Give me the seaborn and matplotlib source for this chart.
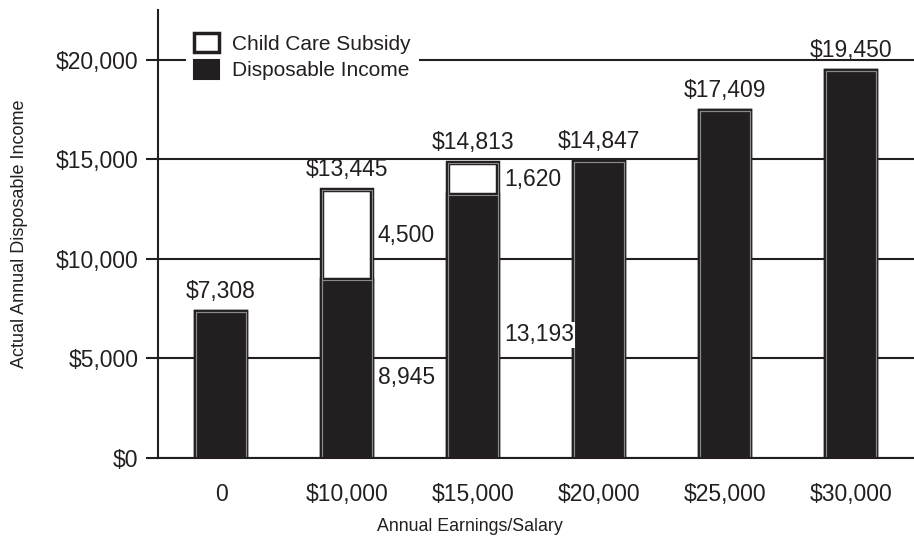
import numpy as np
import pandas as pd
import matplotlib
matplotlib.use("Agg")
import matplotlib.pyplot as plt
from matplotlib.patches import Patch, Rectangle
import seaborn as sns

# chart data
earnings = ["0", "$10,000", "$15,000", "$20,000", "$25,000", "$30,000"]
disposable = [7308, 8945, 13193, 14847, 17409, 19450]
subsidy = [0, 4500, 1620, 0, 0, 0]
yticks = [0, 5000, 10000, 15000, 20000]

df = pd.DataFrame({"earnings": earnings, "disposable": disposable, "subsidy": subsidy})
df["total"] = df["disposable"] + df["subsidy"]

sns.set_style("white")
plt.rcParams["font.family"] = ["Liberation Sans", "DejaVu Sans"]
plt.rcParams["font.size"] = 16.5

dark = "#231f20"

fig = plt.figure(figsize=(9.14, 5.42), dpi=100)
ax = fig.add_axes([0.173, 0.155, 0.827, 0.8265])

# white total bars, then dark disposable bars on top
sns.barplot(data=df, x="earnings", y="total", color="white", saturation=1,
            edgecolor=dark, linewidth=3.2, width=0.4, ax=ax, zorder=2)
sns.barplot(data=df, x="earnings", y="disposable", color=dark, saturation=1,
            edgecolor=dark, linewidth=3.2, width=0.4, ax=ax, zorder=2)

# thin grey inner outline on every bar
for p in list(ax.patches):
    ax.add_patch(Rectangle(p.get_xy(), p.get_width(), p.get_height(), fill=False,
                           edgecolor="#8a8a8a", linewidth=0.8, zorder=2.5))

ax.set_xlim(-0.5, 5.5)
ax.set_ylim(0, 22500)
ax.set_yticks(yticks)
ax.set_yticklabels([f"${v:,.0f}" for v in yticks])
ax.grid(axis="y", color=dark, linewidth=1.5)
ax.set_axisbelow(True)

ax.set_xticks(range(len(earnings)))
ax.set_xticklabels(earnings)
ax.set_xticks(np.arange(-0.5, len(earnings), 1), minor=True)
ax.tick_params(axis="x", which="major", length=0, pad=18)
ax.tick_params(axis="x", which="minor", length=8, width=2, color=dark, direction="out")
ax.tick_params(axis="y", length=9, width=1.5, color=dark, pad=5, left=True)

for side in ["top", "right"]:
    ax.spines[side].set_visible(False)
for side in ["left", "bottom"]:
    ax.spines[side].set_color(dark)
    ax.spines[side].set_linewidth(1.5)

# total labels
for i, t in enumerate(df["total"]):
    ax.annotate(f"${t:,.0f}", (i, t), xytext=(0, 6.5), textcoords="offset points",
                ha="center", va="bottom", color=dark)

# segment labels to the right of stacked bars
for i, (d, s) in enumerate(zip(disposable, subsidy)):
    if s == 0:
        continue
    ax.annotate(f"{d:,.0f}", (i + 0.2, d / 2), xytext=(4, -6), textcoords="offset points",
                ha="left", va="center", color=dark,
                bbox=dict(facecolor="white", edgecolor="none", pad=1))
    ax.annotate(f"{s:,.0f}", (i + 0.2, d + s / 2), xytext=(4, 0), textcoords="offset points",
                ha="left", va="center", color=dark,
                bbox=dict(facecolor="white", edgecolor="none", pad=1))

ax.set_ylabel("Actual Annual Disposable Income", color=dark, fontsize=13)
ax.set_xlabel("Annual Earnings/Salary", color=dark, fontsize=12.8)
ax.xaxis.set_label_coords(0.413, -0.135)
ax.yaxis.set_label_coords(-0.172, 0.5)
ax.tick_params(colors=dark, which="both")

handles = [Patch(facecolor="white", edgecolor=dark, linewidth=2.5),
           Patch(facecolor=dark, edgecolor=dark, linewidth=1.5)]
leg = ax.legend(handles, ["Child Care Subsidy", "Disposable Income"], loc="upper left",
                bbox_to_anchor=(0.023, 0.99), frameon=True, framealpha=1, facecolor="white",
                edgecolor="none", handlelength=1.2, handleheight=1.0, handletextpad=0.6,
                borderpad=0.4, labelspacing=0.3, fancybox=False, fontsize=15)
for t in leg.get_texts():
    t.set_color(dark)

fig.savefig("out.png", dpi=100, facecolor="white")
